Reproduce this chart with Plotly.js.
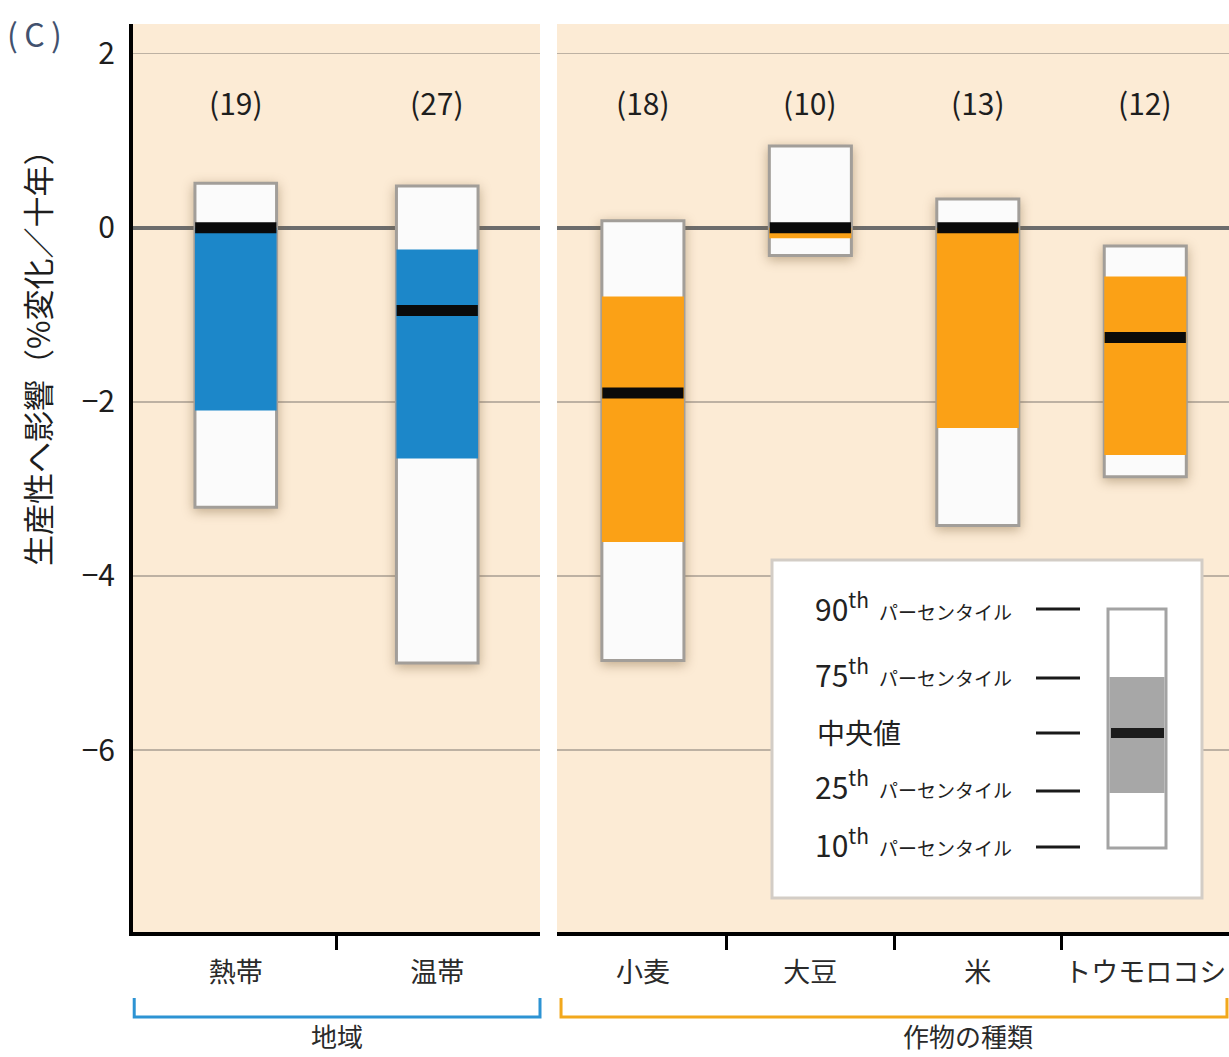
<!DOCTYPE html>
<html>
<head>
<meta charset="utf-8">
<script src="https://cdn.plot.ly/plotly-3.0.1.min.js"></script>
<style>
  html, body { margin: 0; padding: 0; background: #ffffff; }
  #chart { width: 1229px; height: 1057px; }
  .barlayer .trace.bars:first-child .point path { filter: drop-shadow(0px 3px 6px rgba(120, 90, 50, 0.45)); }
</style>
</head>
<body>
<div id="chart"></div>
<script>
// 地域別（熱帯・温帯）
const regions   = ['熱帯', '温帯'];
const regionN   = [19, 27];
const regionP10 = [-3.21, -5.00];
const regionP25 = [-2.10, -2.65];
const regionMed = [0.00, -0.95];
const regionP75 = [0.00, -0.25];
const regionP90 = [0.51, 0.48];

// 作物別
const crops   = ['小麦', '大豆', '米', 'トウモロコシ'];
const cropN   = [18, 10, 13, 12];
const cropP10 = [-4.97, -0.32, -3.42, -2.86];
const cropP25 = [-3.61, -0.12, -2.30, -2.61];
const cropMed = [-1.90, 0.00, 0.00, -1.26];
const cropP75 = [-0.79, 0.00, 0.00, -0.56];
const cropP90 = [0.08, 0.94, 0.33, -0.21];

// 軸の目盛
const yTicks = [-6, -4, -2, 0, 2];

const FONT = '"Noto Sans CJK JP", "Noto Sans", sans-serif';
const BEIGE = '#fcebd5';
const BLUE = '#1c87c9';
const ORANGE = '#fba116';
const BOX_EDGE = '#a29e99';

const L = 133, T = 24, PW = 1096, PH = 908;
const fx = p => (p - L) / PW;
const fy = p => (T + PH - p) / PH;

function groupTraces(cats, p10, p25, med, p75, p90, color, xa, ya, width) {
  const idx = cats.map((_, i) => i);
  return [
    { type: 'bar', x: idx, base: p10, y: p90.map((v, i) => v - p10[i]), width: width,
      marker: { color: '#fbfbfb', line: { color: BOX_EDGE, width: 3 } },
      xaxis: xa, yaxis: ya, hoverinfo: 'skip', showlegend: false },
    { type: 'bar', x: idx, base: p25, y: p75.map((v, i) => v - p25[i]), width: width,
      marker: { color: color, line: { width: 0 } },
      xaxis: xa, yaxis: ya, hoverinfo: 'skip', showlegend: false },
    { type: 'scatter', mode: 'markers', x: idx, y: med,
      marker: { symbol: 'line-ew', size: 58, line: { color: '#0a0a0a', width: 11 } },
      xaxis: xa, yaxis: ya, hoverinfo: 'skip', showlegend: false }
  ];
}

const data = [
  ...groupTraces(regions, regionP10, regionP25, regionMed, regionP75, regionP90, BLUE, 'x', 'y', 0.405),
  ...groupTraces(crops, cropP10, cropP25, cropMed, cropP75, cropP90, ORANGE, 'x2', 'y2', 0.49)
];

const yCommon = {
  range: [-8.09, 2.34],
  tickmode: 'array', tickvals: yTicks,
  showgrid: true, gridcolor: '#bdb1a3', gridwidth: 1.5,
  zeroline: true, zerolinecolor: '#6c6c6c', zerolinewidth: 4,
  fixedrange: true
};

const xCommon = {
  showgrid: false, zeroline: false,
  showline: true, linecolor: '#000000', linewidth: 4,
  ticks: '', ticklabelstandoff: 14,
  tickfont: { family: FONT, size: 27, color: '#2a2a2a' },
  minor: { ticks: 'outside', ticklen: 14, tickwidth: 3, tickcolor: '#000000', tickmode: 'array' },
  fixedrange: true
};

const annotations = [];
regionN.forEach((n, i) => annotations.push({
  x: i, y: 1.44, xref: 'x', yref: 'y', text: '(' + n + ')', showarrow: false,
  xanchor: 'center', yanchor: 'middle',
  font: { family: FONT, size: 30, color: '#1e1e1e' }
}));
cropN.forEach((n, i) => annotations.push({
  x: i, y: 1.44, xref: 'x2', yref: 'y2', text: '(' + n + ')', showarrow: false,
  xanchor: 'center', yanchor: 'middle',
  font: { family: FONT, size: 30, color: '#1e1e1e' }
}));

annotations.push(
  { x: fx(34), y: fy(33), xref: 'paper', yref: 'paper', text: '(\u2009C\u2009)', showarrow: false,
    xanchor: 'center', yanchor: 'middle',
    font: { family: FONT, size: 32, color: '#42516e' } },
  { x: fx(36), y: fy(350), xref: 'paper', yref: 'paper', text: '生産性へ影響（%変化／十年）',
    xanchor: 'center', yanchor: 'middle',
    textangle: -90, showarrow: false, font: { family: FONT, size: 31, color: '#1e1e1e' } },
  { x: 0.5, y: fy(1056), xref: 'x domain', yref: 'paper', text: '地域', showarrow: false,
    xanchor: 'center', yanchor: 'bottom',
    font: { family: FONT, size: 26, color: '#2a2a2a' } },
  { x: 0.612, y: fy(1056), xref: 'x2 domain', yref: 'paper', text: '作物の種類', showarrow: false,
    xanchor: 'center', yanchor: 'bottom',
    font: { family: FONT, size: 26, color: '#2a2a2a' } }
);

// 凡例（パーセンタイルの説明）
const keyRows = [
  { num: '90', label: 'パーセンタイル', y: 610 },
  { num: '75', label: 'パーセンタイル', y: 676 },
  { num: null, label: '中央値', y: 732 },
  { num: '25', label: 'パーセンタイル', y: 788 },
  { num: '10', label: 'パーセンタイル', y: 846 }
];
const keyTickY = [609, 678, 733, 791, 847];
keyRows.forEach(r => {
  if (r.num) {
    annotations.push({ x: fx(813), y: fy(r.y - 3), xref: 'paper', yref: 'paper',
      xanchor: 'left', yanchor: 'middle',
      text: r.num + '<sup>th</sup>', showarrow: false,
      font: { family: FONT, size: 30, color: '#222222' } });
    annotations.push({ x: fx(877), y: fy(r.y + 1), xref: 'paper', yref: 'paper',
      xanchor: 'left', yanchor: 'middle',
      text: r.label, showarrow: false,
      font: { family: FONT, size: 19, color: '#222222' } });
  } else {
    annotations.push({ x: fx(815), y: fy(r.y), xref: 'paper', yref: 'paper',
      xanchor: 'left', yanchor: 'middle',
      text: r.label, showarrow: false,
      font: { family: FONT, size: 28, color: '#222222' } });
  }
});

const shapes = [
  // group brackets
  { type: 'path', xref: 'x domain', yref: 'paper', layer: 'above',
    path: `M 0.003,${fy(998)} L 0.003,${fy(1017)} L 1,${fy(1017)} L 1,${fy(998)}`,
    line: { color: '#2d93d3', width: 3 } },
  { type: 'path', xref: 'x2 domain', yref: 'paper', layer: 'above',
    path: `M 0.006,${fy(998)} L 0.006,${fy(1017)} L 0.997,${fy(1017)} L 0.997,${fy(998)}`,
    line: { color: '#f2a81c', width: 3 } },
  // key panel
  { type: 'rect', xref: 'paper', yref: 'paper', layer: 'above',
    x0: fx(772), x1: fx(1202), y0: fy(560), y1: fy(898),
    fillcolor: '#ffffff', line: { color: '#d3cdc6', width: 3 } },
  { type: 'rect', xref: 'paper', yref: 'paper', layer: 'above',
    x0: fx(1108), x1: fx(1166), y0: fy(609), y1: fy(848),
    fillcolor: '#ffffff', line: { color: '#a3a3a3', width: 3 } },
  { type: 'rect', xref: 'paper', yref: 'paper', layer: 'above',
    x0: fx(1109.5), x1: fx(1164.5), y0: fy(677), y1: fy(793),
    fillcolor: '#a7a7a7', line: { width: 0 } },
  { type: 'rect', xref: 'paper', yref: 'paper', layer: 'above',
    x0: fx(1111), x1: fx(1164), y0: fy(728), y1: fy(738),
    fillcolor: '#1c1c1c', line: { width: 0 } }
];
keyTickY.forEach(y => shapes.push({
  type: 'line', xref: 'paper', yref: 'paper', layer: 'above',
  x0: fx(1036), x1: fx(1080), y0: fy(y), y1: fy(y),
  line: { color: '#1a1a1a', width: 3 }
}));

const layout = {
  width: 1229, height: 1057,
  margin: { l: L, r: 0, t: T, b: 1057 - T - PH },
  paper_bgcolor: '#ffffff',
  plot_bgcolor: BEIGE,
  barmode: 'overlay',
  showlegend: false,
  hovermode: false,
  font: { family: FONT, color: '#222222' },
  xaxis: Object.assign({}, xCommon, {
    domain: [0, 407 / PW], anchor: 'y',
    range: [-0.51, 1.51],
    tickmode: 'array', tickvals: regions.map((_, i) => i), ticktext: regions,
    minor: Object.assign({}, xCommon.minor, { tickvals: [0.5] })
  }),
  xaxis2: Object.assign({}, xCommon, {
    domain: [424 / PW, 1], anchor: 'y2',
    range: [-0.513, 3.5],
    tickmode: 'array', tickvals: crops.map((_, i) => i), ticktext: crops,
    minor: Object.assign({}, xCommon.minor, { tickvals: [0.5, 1.5, 2.5] })
  }),
  yaxis: Object.assign({}, yCommon, {
    anchor: 'x',
    showline: true, linecolor: '#000000', linewidth: 4,
    ticks: '', ticklabelstandoff: 8,
    tickfont: { family: FONT, size: 30, color: '#1e1e1e' }
  }),
  yaxis2: Object.assign({}, yCommon, {
    anchor: 'x2', matches: 'y', showticklabels: false, showline: false, ticks: ''
  }),
  annotations: annotations,
  shapes: shapes
};

Plotly.newPlot('chart', data, layout, { displayModeBar: false, staticPlot: true });
</script>
</body>
</html>
